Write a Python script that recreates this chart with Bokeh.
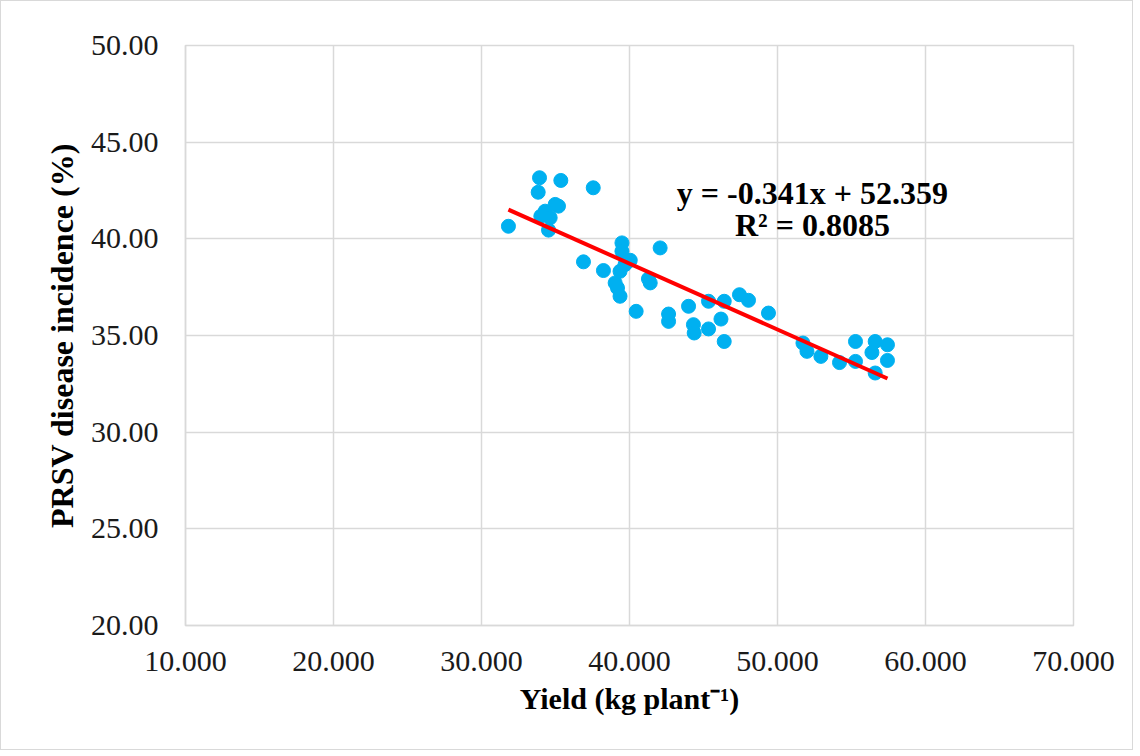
from bokeh.plotting import figure
from bokeh.models import Range1d, FixedTicker, CustomJSTickFormatter, Label
from bokeh.embed import file_html
from bokeh.resources import INLINE

# ---- data ----
yield_kg = [31.82, 33.92, 35.36, 33.83, 37.55, 34.98, 35.20, 34.30, 34.01, 34.64, 34.53,
            39.49, 39.49, 42.07, 36.89, 38.24, 40.05, 39.70, 39.36, 39.03, 39.19, 39.36,
            41.28, 41.40, 40.45, 42.64, 42.64,
            43.99, 45.34, 46.40, 47.43, 48.04, 49.39, 46.18, 44.32, 44.37, 45.34, 46.40,
            51.72, 51.99, 52.93, 54.19, 55.27, 55.27, 56.60, 56.38, 57.43, 57.43, 56.60]
incidence = [40.65, 43.16, 43.02, 42.41, 42.64, 41.78, 41.69, 41.43, 41.17, 41.09, 40.45,
             39.79, 39.36, 39.53, 38.81, 38.36, 38.89, 38.67, 38.32, 37.72, 37.46, 37.03,
             37.93, 37.72, 36.25, 36.11, 35.73,
             36.51, 36.77, 36.77, 37.11, 36.82, 36.16, 35.85, 35.56, 35.13, 35.34, 34.69,
             34.61, 34.18, 33.92, 33.60, 34.69, 33.66, 34.69, 34.12, 34.52, 33.71, 33.06]
slope = -0.341
intercept = 52.359
r_squared = 0.8085
x_ticks = [10, 20, 30, 40, 50, 60, 70]
y_ticks = [20, 25, 30, 35, 40, 45, 50]
x_title = "Yield (kg plant\u207b\u00b9)"
y_title = "PRSV disease incidence (%)"

FONT = "Liberation Serif"
GRID = "#d9d9d9"

p = figure(frame_width=888, frame_height=580, output_backend="svg", toolbar_location=None,
           x_range=Range1d(10, 70), y_range=Range1d(20, 50))
p.min_border_left = 184
p.min_border_right = 59
p.min_border_top = 44
p.min_border_bottom = 124
p.styles = {"border": "1px solid #d9d9d9"}
p.background_fill_color = "white"
p.border_fill_color = "white"
p.outline_line_color = GRID
p.outline_line_width = 1.5

p.xaxis.ticker = FixedTicker(ticks=x_ticks)
p.yaxis.ticker = FixedTicker(ticks=y_ticks)
p.xaxis.formatter = CustomJSTickFormatter(code="return tick.toFixed(3);")
p.yaxis.formatter = CustomJSTickFormatter(code="return tick.toFixed(2);")
for ax in (p.xaxis, p.yaxis):
    ax.major_tick_line_color = None
    ax.minor_tick_line_color = None
    ax.axis_line_color = GRID
    ax.axis_line_width = 1.5
    ax.major_label_text_font = FONT
    ax.major_label_text_font_size = "30px"
    ax.major_label_text_color = "#1a1a1a"
    ax.axis_label_text_font = FONT
    ax.axis_label_text_font_style = "bold"
    ax.axis_label_text_color = "black"
p.xaxis.axis_label_text_font_size = "30px"
p.yaxis.axis_label_text_font_size = "32px"
p.xaxis.axis_label = x_title
p.yaxis.axis_label = y_title
p.xaxis.major_label_standoff = 20
p.yaxis.major_label_standoff = 21
p.xaxis.axis_label_standoff = 8
p.yaxis.axis_label_standoff = 8

p.xgrid.ticker = FixedTicker(ticks=x_ticks)
p.ygrid.ticker = FixedTicker(ticks=y_ticks)
p.grid.grid_line_color = GRID
p.grid.grid_line_width = 1.5

p.scatter(yield_kg, incidence, size=14, fill_color="#00B0F0", line_color="#00B0F0")

x0, x1 = min(yield_kg), max(yield_kg)
p.line([x0, x1], [slope * x0 + intercept, slope * x1 + intercept], line_color="#FF0000", line_width=4)

eq_x = 52.36
p.add_layout(Label(x=eq_x, y=42.39, text=f"y = {slope}x + {intercept}", text_align="center",
                   text_baseline="middle", text_font=FONT, text_font_size="32px",
                   text_font_style="bold", text_color="black"))
p.add_layout(Label(x=eq_x, y=40.73, text=f"R\u00b2 = {r_squared}", text_align="center",
                   text_baseline="middle", text_font=FONT, text_font_size="32px",
                   text_font_style="bold", text_color="black"))

open("out.html", "w").write(file_html(p, INLINE))
